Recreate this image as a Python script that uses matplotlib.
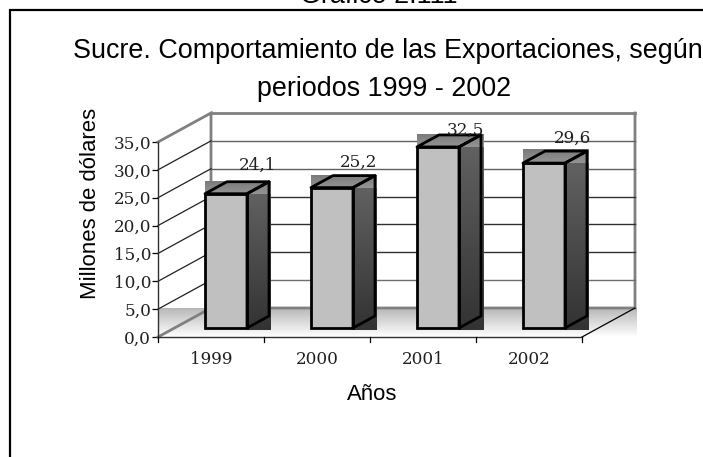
import numpy as np
import matplotlib
matplotlib.use('Agg')
import matplotlib.pyplot as plt
from matplotlib.patches import Polygon, Rectangle

years = ['1999', '2000', '2001', '2002']
values = [24.1, 25.2, 32.5, 29.6]
value_labels = ['24,1', '25,2', '32,5', '29,6']
y_ticks = [0, 5, 10, 15, 20, 25, 30, 35]
y_labels = ['0,0', '5,0', '10,0', '15,0', '20,0', '25,0', '30,0', '35,0']

W, H = 703, 457
SANS = 'Liberation Sans'
SERIF = 'DejaVu Serif'

fig = plt.figure(figsize=(W / 100, H / 100), dpi=100)
fig.patch.set_facecolor('white')

# background axes in pixels, for the frame and titles
bg = fig.add_axes([0, 0, 1, 1])
bg.set_xlim(0, W)
bg.set_ylim(H, 0)
bg.axis('off')
bg.plot([10, 10, W + 5], [H + 5, 10, 10], color='black', lw=1.6, solid_joinstyle='miter')
bg.text(379, 3, 'Gráfico 2.111', family=SANS, fontsize=19.4, ha='center', va='baseline')
bg.text(388, 58, 'Sucre. Comportamiento de las Exportaciones, según', family=SANS, fontsize=19.4,
        ha='center', va='baseline')
bg.text(384, 96, 'periodos 1999 - 2002', family=SANS, fontsize=19.4, ha='center', va='baseline')

# front plane of the 3D box
x0, x1, y0, y1 = 158, 582, 337, 142
ax = fig.add_axes([x0 / W, 1 - y0 / H, (x1 - x0) / W, (y0 - y1) / H])
ax.patch.set_alpha(0)
for s in ['top', 'right']:
    ax.spines[s].set_visible(False)
for s in ['left', 'bottom']:
    ax.spines[s].set_color('#303030')
    ax.spines[s].set_linewidth(1.0)

px = 4 / (x1 - x0)       # data units per pixel, x
py = 35 / (y0 - y1)      # data units per pixel, y
dx, dy = 53 * px, 29 * py            # depth of the box
bar_w = 42 * px
off_x, off_y = 47 * px, 9 * py       # bars sit inside the box
side_x, side_y = 22 * px, 12 * py    # bar depth
# label shifts in pixels from the bar's front top right corner
label_dx = [11, 6, 6, 8]
label_dy = [24, 21, 12, 20]

gray = 'gray'
# floor gradient
floor = np.linspace(0.72, 1.0, 64).reshape(-1, 1)
ax.imshow(floor, cmap=gray, vmin=0, vmax=1, aspect='auto', zorder=1,
          extent=[0, 4 + 55 * px, 0, dy], clip_on=False)
ax.set_xlim(0, 4)
ax.set_ylim(0, 35)

# walls and gridlines
ax.plot([0, dx, dx, 4 + dx, 4 + dx], [35, 35 + dy, dy, dy, 35 + dy], color='#808080', lw=2, zorder=2,
        clip_on=False, solid_joinstyle='miter')
ax.plot([dx, 4 + dx], [35 + dy, 35 + dy], color='#808080', lw=2, zorder=2, clip_on=False)
ax.plot([0, dx], [0, dy], color='#808080', lw=2, zorder=2, clip_on=False)
ax.plot([4, 4 + dx], [0, dy], color='black', lw=0.9, zorder=2, clip_on=False)
grid_cols = {5: '#707070', 10: '#303030', 15: '#303030', 20: '#303030', 25: '#606060', 30: '#606060'}
for t in y_ticks[1:-1]:
    ax.plot([0, dx], [t, t + dy], color='#202020', lw=0.9, zorder=2, clip_on=False)
    ax.plot([dx, 4 + dx], [t + dy, t + dy], color=grid_cols[t], lw=1.0, zorder=2, clip_on=False)

# bars
for i, v in enumerate(values):
    left = i + off_x
    base = off_y
    top = base + v
    right = left + bar_w
    # gray image boxes behind the side and top faces
    side_img = np.linspace(0.38, 0.2, 64).reshape(-1, 1)
    ax.imshow(side_img, cmap=gray, vmin=0, vmax=1, aspect='auto', zorder=3, clip_on=False,
              extent=[right, right + side_x + 2 * px, base - 2 * py, top])
    top_img = np.linspace(0.48, 0.58, 32).reshape(-1, 1)
    ax.imshow(top_img, cmap=gray, vmin=0, vmax=1, aspect='auto', zorder=3, clip_on=False,
              extent=[left, right + side_x + 2 * px, top, top + side_y + 1 * py])
    ax.add_patch(Rectangle((left, base), bar_w, v, facecolor='#c0c0c0', edgecolor='black', lw=2,
                           zorder=4, clip_on=False))
    ax.add_patch(Polygon([(right, base), (right + side_x, base + side_y), (right + side_x, top + side_y),
                          (right, top)], closed=True, facecolor='none', edgecolor='black', lw=2,
                         zorder=4, clip_on=False, joinstyle='round'))
    ax.add_patch(Polygon([(left, top), (left + side_x, top + side_y), (right + side_x, top + side_y),
                          (right, top)], closed=True, facecolor='none', edgecolor='black', lw=2,
                         zorder=4, clip_on=False, joinstyle='round'))
    ax.text(right + label_dx[i] * px, top + label_dy[i] * py, value_labels[i], family=SERIF, fontsize=12.2,
            ha='center', va='baseline', color='#202020', zorder=5, clip_on=False)

ax.set_xticks([0, 1, 2, 3, 4])
ax.set_xticklabels([])
ax.set_xticks([0.5, 1.5, 2.5, 3.5], labels=years, minor=True)
ax.tick_params(axis='x', which='major', direction='in', length=0)
ax.tick_params(axis='x', which='minor', length=0, pad=10, labelsize=12.2)
for t in [0, 1, 2, 3, 4]:
    ax.plot([t, t], [0, -5 * py], color='black', lw=0.9, clip_on=False, zorder=5)
ax.set_yticks(y_ticks, labels=y_labels)
ax.tick_params(axis='y', length=4, width=0.9, pad=1, labelsize=12.2)
for lab in ax.get_xticklabels(minor=True) + ax.get_yticklabels():
    lab.set_family(SERIF)
    lab.set_color('#202020')

bg.text(372, 400, 'Años', family=SANS, fontsize=15.9, ha='center', va='baseline')
bg.text(90, 203, 'Millones de dólares', family=SANS, fontsize=15.9, rotation=90, ha='center', va='center')

fig.savefig('out.png', dpi=100)
